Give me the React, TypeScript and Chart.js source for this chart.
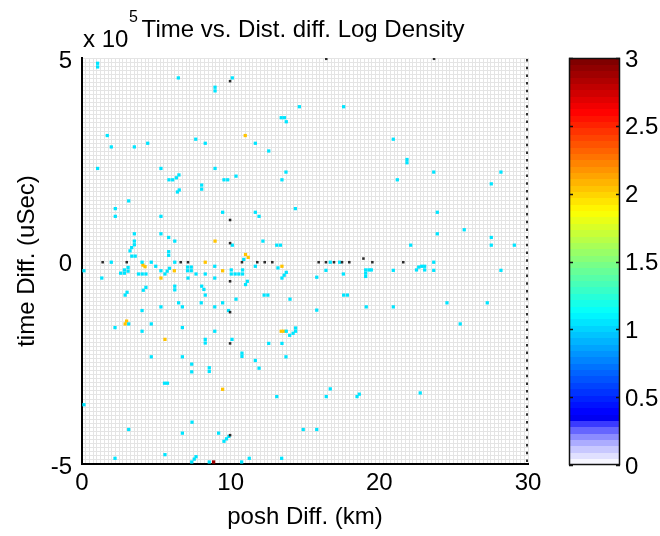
import React, { useEffect, useRef } from 'react';
import { Chart, registerables } from 'chart.js';
Chart.register(...registerables);

const FONT = '"Liberation Sans", Arial, Helvetica, sans-serif';

// Axis ranges & tick labels
const xRange = [0, 30];
const yRange = [-5, 5]; // units of 1e5 uSec
const xLabelTicks = [0, 10, 20, 30];
const yLabelTicks = [-5, 0, 5];
const colorbarTicks = [0, 0.5, 1, 1.5, 2, 2.5, 3];
const colorbarRange = [0, 3];

// Density levels (log10 counts) of each group of cells
const cyanLevel = 1.05;
const yellowLevel = 2.05;
const redLevel = 2.9;

// Cells: [posh diff (km), time diff (x1e5 uSec)]
const cyanCells: [number, number][] = [
  [1.05, 4.87], [1.05, 4.78], [6.48, 4.51], [8.95, 4.28], [8.95, 4.19], [10.11, 4.51],
  [14.62, 3.8], [17.6, 3.8], [13.4, 3.53], [13.62, 3.53], [13.74, 3.43],
  [1.7, 3.09], [1.97, 2.81], [3.52, 2.81], [4.42, 2.9], [7.65, 3.0], [8.29, 2.9], [11.66, 2.9], [12.56, 2.71], [20.94, 3.0], [21.86, 2.5], [21.86, 2.42],
  [1.05, 2.28], [5.31, 2.28], [8.95, 2.28], [13.72, 2.19], [23.66, 2.19], [28.18, 2.19],
  [5.85, 2.0], [6.1, 2.0], [6.35, 2.05], [6.52, 2.12], [8.05, 1.87], [8.05, 1.77], [6.54, 1.75], [6.42, 1.7],
  [9.55, 2.0], [9.8, 2.0], [10.36, 2.09], [13.45, 2.0], [21.21, 2.0], [27.53, 1.9],
  [3.14, 1.48], [2.24, 1.29], [14.35, 1.29], [2.24, 1.1], [5.31, 1.1], [9.46, 1.2], [11.66, 1.2], [11.91, 1.1], [23.9, 1.2],
  [25.71, 0.77], [3.52, 0.67], [5.31, 0.67], [23.9, 0.67], [5.83, 0.58], [27.53, 0.58], [6.24, 0.49], [12.17, 0.49],
  [3.52, 0.49], [3.52, 0.4], [3.34, 0.33], [3.23, 0.25], [3.35, 0.12], [3.58, 0.12], [5.83, 0.23], [5.83, 0.14],
  [10.11, 0.39], [13.1, 0.39], [13.35, 0.39], [22.11, 0.39], [27.53, 0.39], [29.08, 0.39], [10.88, 0.04],
  [1.97, -0.03], [4.04, -0.03], [4.66, -0.03], [6.24, -0.03], [16.7, -0.03], [17.33, -0.03], [23.66, -0.03],
  [8.93, -0.13], [4.96, -0.13], [11.66, -0.13], [13.18, -0.17],
  [0.13, -0.24], [2.6, -0.3], [2.85, -0.3], [3.1, -0.25], [3.1, -0.16], [2.85, -0.22],
  [3.8, -0.32], [4.05, -0.32], [4.3, -0.32], [5.31, -0.24], [5.58, -0.32], [5.73, -0.25], [5.88, -0.18],
  [7.1, -0.15], [7.35, -0.15], [7.1, -0.24], [7.35, -0.24], [7.67, -0.32], [8.29, -0.32],
  [10.04, -0.22], [10.04, -0.32], [10.3, -0.32], [10.55, -0.32], [10.8, -0.32], [10.8, -0.22],
  [13.45, -0.42], [13.6, -0.35], [13.74, -0.28], [16.41, -0.23], [17.58, -0.32], [15.79, -0.4],
  [19.08, -0.22], [19.3, -0.22], [19.46, -0.22], [19.08, -0.3], [19.08, -0.38],
  [20.94, -0.23], [22.5, -0.22], [22.65, -0.15], [22.85, -0.13], [23.05, -0.13], [23.05, -0.22], [23.66, -0.23], [28.18, -0.23],
  [1.33, -0.42], [7.13, -0.42], [8.93, -0.42], [11.0, -0.58], [11.12, -0.5],
  [2.9, -0.84], [3.03, -0.77], [4.12, -0.72], [4.3, -0.65], [6.24, -0.62], [6.24, -0.71], [8.05, -0.62], [8.2, -0.7], [8.29, -0.84],
  [12.25, -0.84], [12.5, -0.84], [17.6, -0.84], [17.85, -0.84], [10.36, -0.94], [13.99, -0.94],
  [6.5, -1.03], [8.02, -1.03], [9.46, -1.03], [24.55, -1.03], [27.26, -1.03],
  [5.31, -1.13], [6.75, -1.13], [8.93, -1.13], [19.12, -1.13], [20.94, -1.13], [4.04, -1.22], [9.86, -1.22], [15.79, -1.21],
  [3.14, -1.55], [4.66, -1.55], [25.44, -1.55], [2.22, -1.64], [6.75, -1.64], [4.04, -1.73], [8.93, -1.73],
  [13.74, -1.73], [13.97, -1.83], [14.2, -1.78], [14.37, -1.65], [14.37, -1.73],
  [8.29, -1.93], [8.29, -2.02], [10.09, -1.93], [12.56, -2.03], [13.45, -2.03],
  [4.66, -2.36], [6.75, -2.36], [13.72, -2.36], [10.76, -2.27], [10.76, -2.35], [11.66, -2.45],
  [7.38, -2.54], [7.38, -2.73], [8.56, -2.63], [8.56, -2.72], [11.91, -2.64],
  [5.55, -3.01], [5.75, -3.01], [16.7, -3.15], [13.1, -3.34], [16.43, -3.34], [18.5, -3.34], [18.65, -3.28], [22.75, -3.25],
  [0.13, -3.54], [7.4, -3.97], [3.14, -4.15], [14.88, -4.15], [15.79, -4.15], [6.75, -4.24], [9.19, -4.24],
  [9.55, -4.44], [9.72, -4.38], [9.88, -4.32],
  [2.22, -4.86], [5.58, -4.77], [7.38, -4.95], [7.55, -4.88], [7.67, -4.82], [8.56, -4.95], [10.74, -4.95], [11.25, -4.86], [13.43, -4.86],
];

const yellowCells: [number, number][] = [
  [10.98, 3.09], [8.95, 0.49], [11.0, 0.16], [11.18, 0.09], [8.29, -0.03], [4.1, -0.1], [4.24, -0.14],
  [13.45, -0.13], [9.46, -0.24], [6.21, -0.24], [5.31, -0.42], [2.9, -1.55], [3.0, -1.48], [5.58, -1.93],
  [13.4, -1.73], [13.58, -1.73], [9.46, -3.16],
];

const redCells: [number, number][] = [[8.85, -4.95]];

const blackCells: [number, number][] = [
  [16.43, 4.98], [23.68, 4.98], [9.96, 4.43], [9.96, 1.01], [9.96, 0.44], [18.93, 0.06],
  [1.39, -0.03], [3.01, -0.03], [6.64, -0.03], [7.13, -0.03], [10.76, -0.03], [11.79, -0.03], [12.29, -0.03],
  [12.8, -0.03], [15.92, -0.03], [16.41, -0.03], [16.95, -0.03], [17.49, -0.03], [17.98, -0.03], [19.53, -0.03],
  [21.61, -0.03], [9.96, -0.5], [9.96, -1.26], [9.96, -2.03], [9.96, -4.29],
];

// MATLAB-like jet colormap (64 levels) with a white-to-blue bottom
const LEVELS = 64;
const lowBand = [246, 224, 200, 172, 140, 102, 58];
function clamp01(v: number) { return Math.max(0, Math.min(1, v)); }
function levelColor(k: number): string {
  if (k < lowBand.length) { const c = lowBand[k]; return `rgb(${c},${c},255)`; }
  const t = k / (LEVELS - 1);
  const r = clamp01(1.5 - Math.abs(4 * t - 3));
  const g = clamp01(1.5 - Math.abs(4 * t - 2));
  const b = clamp01(1.5 - Math.abs(4 * t - 1));
  return `rgb(${Math.round(r * 255)},${Math.round(g * 255)},${Math.round(b * 255)})`;
}
function colorFor(v: number): string {
  const k = Math.min(LEVELS - 1, Math.max(0, Math.floor((v / colorbarRange[1]) * LEVELS)));
  return levelColor(k);
}

const toPts = (cells: [number, number][]) => cells.map(([x, y]) => ({ x, y }));
const isOneOf = (v: number, arr: number[]) => arr.some((a) => Math.abs(a - v) < 1e-6);

export default function App() {
  const mainRef = useRef<HTMLCanvasElement | null>(null);
  const cbRef = useRef<HTMLCanvasElement | null>(null);

  useEffect(() => {
    document.body.style.margin = '0';
    Chart.defaults.font.family = FONT;
    Chart.defaults.color = '#000';

    const textPlugin = {
      id: 'matlabText',
      afterDraw(chart: any) {
        const { ctx, chartArea } = chart;
        ctx.save();
        ctx.fillStyle = '#000';
        ctx.textBaseline = 'alphabetic';
        ctx.font = `24px ${FONT}`;
        ctx.textAlign = 'center';
        ctx.fillText('Time vs. Dist. diff. Log Density', 303, 37);
        ctx.textAlign = 'left';
        ctx.fillText('x 10', 83, 47);
        ctx.font = `16px ${FONT}`;
        ctx.fillText('5', 129, 22);
        // dotted right edge of the box
        ctx.strokeStyle = '#303030';
        ctx.lineWidth = 2;
        ctx.setLineDash([2.5, 5.2]);
        ctx.beginPath();
        ctx.moveTo(chartArea.right - 1, chartArea.top + 1);
        ctx.lineTo(chartArea.right - 1, chartArea.bottom);
        ctx.stroke();
        ctx.restore();
      },
    };

    const ds = (cells: [number, number][], color: string, r: number) => ({
      data: toPts(cells),
      pointStyle: 'rect',
      pointRadius: r,
      pointHoverRadius: r,
      pointBorderWidth: 0,
      backgroundColor: color,
      pointBackgroundColor: color,
      showLine: false,
    });

    const main = new Chart(mainRef.current!, {
      type: 'scatter',
      data: {
        datasets: [
          ds(blackCells, '#2c2c2c', 1.8),
          ds(cyanCells, colorFor(cyanLevel), 2.3),
          ds(yellowCells, colorFor(yellowLevel), 2.3),
          ds(redCells, colorFor(redLevel), 2.3),
        ] as any,
      },
      options: {
        responsive: false,
        animation: false,
        devicePixelRatio: 1,
        layout: { padding: { top: 58, right: 132, left: 0, bottom: 0 } },
        plugins: { legend: { display: false }, tooltip: { enabled: false }, title: { display: false } },
        events: [],
        scales: {
          x: {
            type: 'linear',
            min: xRange[0],
            max: xRange[1],
            afterFit: (s: any) => { s.height = 72; },
            ticks: {
              stepSize: 0.25,
              autoSkip: false,
              maxRotation: 0,
              minRotation: 0,
              padding: 5,
              font: { size: 24, family: FONT },
              color: '#000',
              callback: (v: any) => (isOneOf(Number(v), xLabelTicks) ? String(Math.round(Number(v))) : ''),
            },
            grid: { color: '#e4e4e4', drawTicks: false, lineWidth: 1 },
            border: { color: '#000', width: 2 },
            title: { display: true, text: 'posh Diff. (km)', font: { size: 24, family: FONT }, color: '#000', padding: { top: 0, bottom: 4 } },
          },
          y: {
            type: 'linear',
            min: yRange[0],
            max: yRange[1],
            afterFit: (s: any) => { s.width = 82; },
            ticks: {
              stepSize: 0.1,
              autoSkip: false,
              padding: 10,
              labelOffset: 3,
              font: { size: 24, family: FONT },
              color: '#000',
              callback: (v: any) => (isOneOf(Number(v), yLabelTicks) ? String(Math.round(Number(v))) : ''),
            },
            grid: { color: '#e4e4e4', drawTicks: false, lineWidth: 1 },
            border: { color: '#000', width: 2 },
            title: { display: true, text: 'time Diff. (uSec)', font: { size: 24, family: FONT }, color: '#000', padding: { top: 13, bottom: 0 } },
          },
        },
      } as any,
      plugins: [textPlugin],
    });

    const cbPlugin = {
      id: 'colorbar',
      beforeDraw(chart: any) {
        const { ctx, chartArea } = chart;
        const ys = chart.scales.y;
        ctx.save();
        for (let k = 0; k < LEVELS; k++) {
          const v0 = (k * colorbarRange[1]) / LEVELS;
          const v1 = ((k + 1) * colorbarRange[1]) / LEVELS;
          const yTop = ys.getPixelForValue(v1);
          const yBot = ys.getPixelForValue(v0);
          ctx.fillStyle = levelColor(k);
          ctx.fillRect(chartArea.left, Math.floor(yTop), chartArea.right - chartArea.left, Math.ceil(yBot) - Math.floor(yTop));
        }
        ctx.restore();
      },
      afterDraw(chart: any) {
        const { ctx, chartArea } = chart;
        const ys = chart.scales.y;
        ctx.save();
        ctx.strokeStyle = '#111';
        ctx.lineWidth = 1.5;
        ctx.strokeRect(chartArea.left + 0.5, chartArea.top + 0.5, chartArea.right - chartArea.left - 1, chartArea.bottom - chartArea.top - 1);
        colorbarTicks.forEach((v) => {
          const y = Math.round(ys.getPixelForValue(v)) + 0.5;
          ctx.beginPath();
          ctx.moveTo(chartArea.left, y); ctx.lineTo(chartArea.left + 4, y);
          ctx.moveTo(chartArea.right - 4, y); ctx.lineTo(chartArea.right, y);
          ctx.stroke();
        });
        ctx.restore();
      },
    };

    const cb = new Chart(cbRef.current!, {
      type: 'scatter',
      data: { datasets: [] },
      options: {
        responsive: false,
        animation: false,
        devicePixelRatio: 1,
        events: [],
        layout: { padding: { top: 58, right: 0, left: 29, bottom: 71 } },
        plugins: { legend: { display: false }, tooltip: { enabled: false } },
        scales: {
          x: { display: false, min: 0, max: 1 },
          y: {
            type: 'linear',
            position: 'right',
            min: colorbarRange[0],
            max: colorbarRange[1],
            afterFit: (s: any) => { s.width = 40; },
            afterBuildTicks: (s: any) => { s.ticks = colorbarTicks.map((v) => ({ value: v })); },
            ticks: {
              padding: 5,
              labelOffset: 2,
              font: { size: 24, family: FONT },
              color: '#000',
              callback: (v: any) => String(Number(v)),
            },
            grid: { display: false, drawTicks: false },
            border: { display: false },
          },
        },
      } as any,
      plugins: [cbPlugin],
    });

    return () => { main.destroy(); cb.destroy(); };
  }, []);

  return (
    <div style={{ position: 'relative', width: 660, height: 536, background: '#fff' }}>
      <canvas ref={mainRef} width={660} height={536} style={{ position: 'absolute', left: 0, top: 0 }} />
      <canvas ref={cbRef} width={120} height={536} style={{ position: 'absolute', left: 540, top: 0 }} />
    </div>
  );
}
